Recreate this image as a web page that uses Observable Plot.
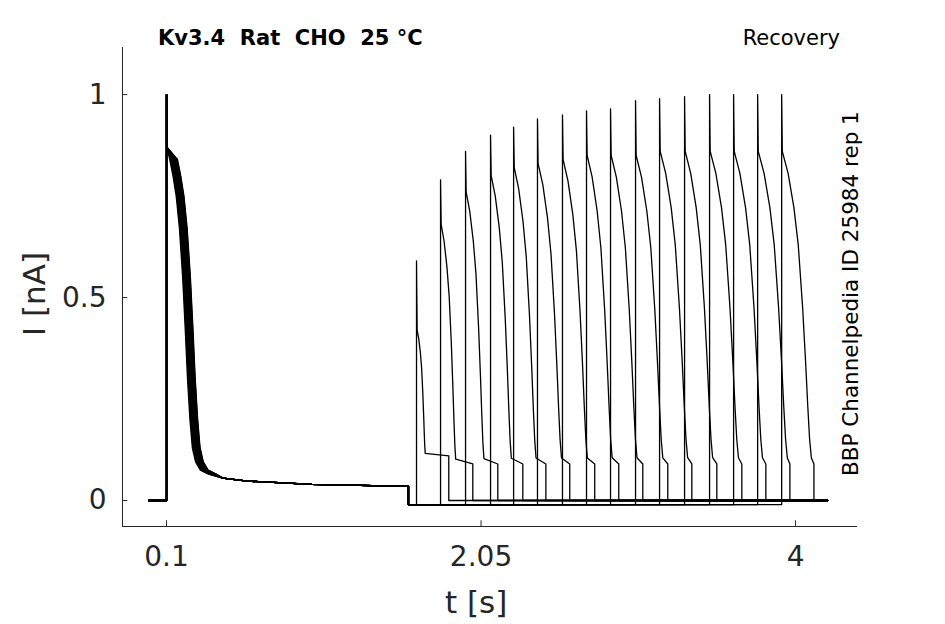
<!DOCTYPE html>
<html><head><meta charset="utf-8">
<script src="https://cdn.jsdelivr.net/npm/d3@7"></script>
<script src="https://cdn.jsdelivr.net/npm/@observablehq/plot@0.6"></script>
<style>
body{margin:0;background:#fff;font-family:"DejaVu Sans",sans-serif}
#wrap{position:relative;width:945px;height:624px}
.t{position:absolute;white-space:nowrap;color:#000}
</style></head><body><div id="wrap"></div>
<script>
// First-pulse shape (time s, current nA), common to all sweeps
const firstT = [0.1, 0.1, 0.103, 0.12, 0.14, 0.16, 0.18, 0.2, 0.215, 0.23, 0.245, 0.26, 0.28, 0.31, 0.36, 0.45, 0.6, 1.0, 1.6];
const firstI = [0, 1.0, 0.87, 0.84, 0.80, 0.75, 0.67, 0.55, 0.43, 0.30, 0.2, 0.13, 0.095, 0.075, 0.065, 0.055, 0.048, 0.04, 0.035];
// per-sweep small shift of the first-pulse inactivation (s)
const firstShift = [0, 0.004, 0.008, 0.012, 0.016, 0.02, 0.024, 0.027, 0.03, 0.033, 0.036, 0.039, 0.042, 0.044, 0.046, 0.048];
// recovery test pulses
const pulseStart = [1.65, 1.799, 1.954, 2.109, 2.252, 2.400, 2.555, 2.704, 2.853, 3.008, 3.157, 3.312, 3.467, 3.616, 3.765, 3.914];
const pulsePeak  = [0.59, 0.79, 0.86, 0.90, 0.92, 0.94, 0.95, 0.96, 0.965, 0.985, 0.99, 0.995, 1.0, 1.0, 1.0, 1.0];
const pulseKnee  = [0.42, 0.68, 0.76, 0.80, 0.82, 0.83, 0.84, 0.85, 0.85, 0.85, 0.86, 0.86, 0.86, 0.86, 0.86, 0.86];
const pulseFall  = [0.05, 0.09, 0.11, 0.125, 0.135, 0.145, 0.15, 0.155, 0.16, 0.165, 0.17, 0.17, 0.175, 0.175, 0.18, 0.18];
const pulsePlat  = [0.11, 0.09, 0.09, 0.09, 0.09, 0.09, 0.09, 0.09, 0.09, 0.09, 0.09, 0.09, 0.09, 0.09, 0.09, 0.09];
// normalized decay shape of a test pulse: fraction of fall time, fraction of (knee - plateau)
const shapeF = [0, 0.2, 0.4, 0.55, 0.7, 0.8, 0.88, 0.94, 1.0];
const shapeV = [1, 0.93, 0.82, 0.7, 0.5, 0.33, 0.18, 0.08, 0.02];
const pulseDur = 0.2, tBegin = -0.01, tEnd = 4.2, holdOffset = -0.01;
const xTicks = [0.1, 2.05, 4], yTicks = [0, 0.5, 1];

const rows = [];
pulseStart.forEach((ts, k) => {
  const add = (t, i) => rows.push({sweep: k, t, i});
  add(tBegin, 0);
  firstT.forEach((t, j) => add(j > 2 && j < 15 ? t + firstShift[k] : t, firstI[j]));
  add(1.6, holdOffset); add(ts, holdOffset);
  add(ts, pulsePeak[k]);
  shapeF.forEach((f, j) => add(ts + 0.004 + f * pulseFall[k], pulsePlat[k] + shapeV[j] * (pulseKnee[k] - pulsePlat[k])));
  add(ts + pulseDur, pulsePlat[k]);
  add(ts + pulseDur, 0); add(tEnd, 0);
});

const chart = Plot.plot({
  width: 945, height: 624,
  marginLeft: 122, marginRight: 89, marginTop: 47, marginBottom: 98,
  style: {fontFamily: "DejaVu Sans", fontSize: "28px", color: "#262626", background: "#fff"},
  x: {domain: [-0.173, 4.378], label: null},
  y: {domain: [-0.064, 1.116], label: null},
  marks: [
    Plot.line(rows, {x: "t", y: "i", z: "sweep", stroke: "#000", strokeWidth: 1.3}),
    Plot.axisX({ticks: xTicks, tickSize: 0, tickPadding: 20, tickFormat: d => String(d), fontSize: 28}),
    Plot.axisY({ticks: yTicks, tickSize: 0, tickPadding: 16, tickFormat: d => String(d), fontSize: 28}),
    Plot.ruleX(xTicks, {x: d => d, y1: -0.064, y2: -0.05, stroke: "#262626"}),
    Plot.ruleY(yTicks, {y: d => d, x1: -0.173, x2: -0.14, stroke: "#262626"}),
    Plot.frame({anchor: "left", stroke: "#262626"}),
    Plot.frame({anchor: "bottom", stroke: "#262626"})
  ]
});
const w = document.getElementById("wrap");
w.appendChild(chart);
w.insertAdjacentHTML("beforeend", `
<div class="t" style="left:158px;top:26px;font-size:21px;font-weight:bold">Kv3.4&nbsp; Rat&nbsp; CHO&nbsp; 25 °C</div>
<div class="t" style="right:105px;top:26px;font-size:21px">Recovery</div>
<div class="t" style="left:838px;top:0;font-size:21.5px;transform:translate(0,476px) rotate(-90deg);transform-origin:0 0">BBP Channelpedia ID 25984 rep 1</div>
<div class="t" style="left:16px;top:336px;font-size:31px;color:#262626;transform:rotate(-90deg);transform-origin:0 0">I [nA]</div>
<div class="t" style="left:445px;top:584px;font-size:31px;color:#262626">t [s]</div>
`);
</script></body></html>
